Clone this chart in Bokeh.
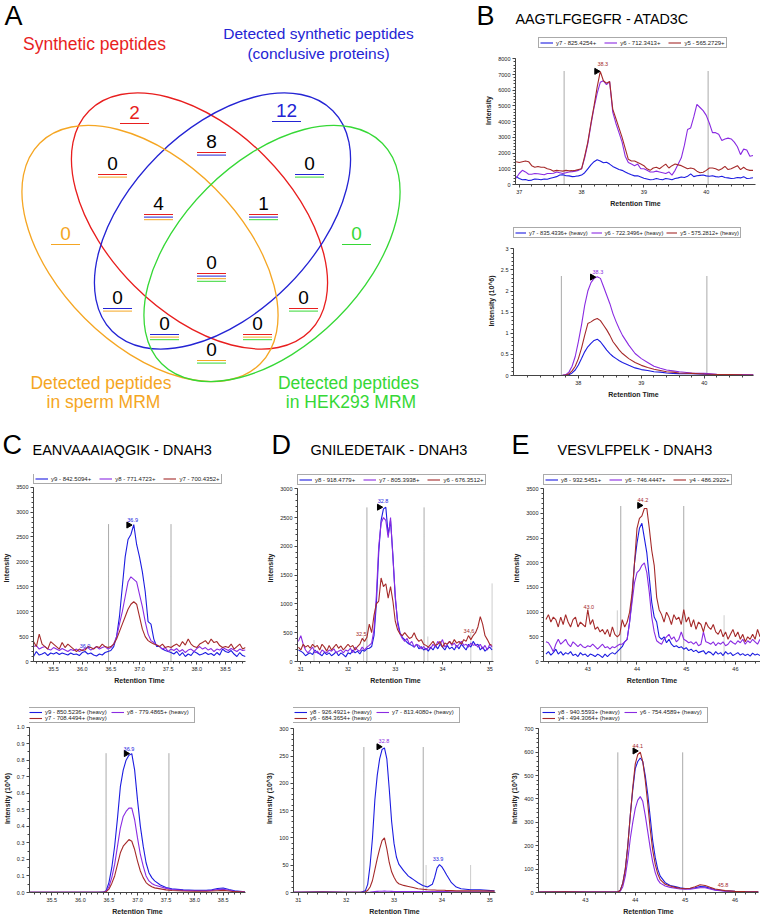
import math
from bokeh.plotting import figure
from bokeh.models import (Range1d, SingleIntervalTicker, FixedTicker, PrintfTickFormatter,
                          NumeralTickFormatter, Legend, LegendItem, Label)
from bokeh.layouts import row, column
from bokeh.embed import file_html
from bokeh.resources import INLINE
from bokeh.core.properties import value

FONT = "Liberation Sans"
C_BLUE = "#1c1ce0"
C_VIOLET = "#8a2be2"
C_BROWN = "#a52a2a"
TXT = "#222222"

# ---------------- Panel A : Venn data ----------------
SET_COLORS = {"R": "#e81e1e", "B": "#2424d4", "O": "#f5a623", "G": "#36d836"}
ELL_SET = ["R", "B", "O", "G"]
ELL_X = [199, 222, 149.5, 271.5]
ELL_Y = [220.5, 220.5, 253, 253]
ELL_W = [312, 312, 312, 312]
ELL_H = [184, 184, 184, 184]
ELL_ANGLE = [-45, 45, -45, 45]

VENN_X = [134, 286, 211, 112, 309, 158, 263, 65, 356, 211, 117, 303, 164, 257, 211]
VENN_Y = [112, 110, 141, 163, 163, 203, 203, 233, 233, 262, 297, 297, 323, 323, 349]
VENN_N = ["2", "12", "8", "0", "0", "4", "1", "0", "0", "0", "0", "0", "0", "0", "0"]
VENN_SETS = ["R", "B", "RB", "RO", "BG", "RBO", "RBG", "O", "G", "RBOG", "BO", "RG", "BOG", "ROG", "OG"]

SET_LABELS = [("Synthetic peptides", 94, 43, "R", "17.5px"),
              ("Detected synthetic peptides", 318, 33, "B", "15.5px"),
              ("(conclusive proteins)", 318, 53, "B", "15.5px"),
              ("Detected peptides", 100.5, 382, "O", "17.5px"),
              ("in sperm MRM", 103, 401, "O", "17.5px"),
              ("Detected peptides", 348, 382, "G", "17.5px"),
              ("in HEK293 MRM", 350.5, 401, "G", "17.5px")]

# ---------------- Panel B : AAGTLFGEGFR - ATAD3C ----------------
B_LABELS = ["y7 - 825.4254+", "y6 - 712.3413+", "y5 - 565.2729+"]
B_T = [36.95, 37.0, 37.05, 37.1, 37.15, 37.2, 37.25, 37.3, 37.35, 37.4,
       37.45, 37.5, 37.55, 37.6, 37.65, 37.7, 37.75, 37.8, 37.85, 37.9,
       37.95, 38.0, 38.05, 38.1, 38.15, 38.2, 38.25, 38.3, 38.35, 38.4,
       38.45, 38.5, 38.55, 38.6, 38.65, 38.7, 38.75, 38.8, 38.85, 38.9,
       38.95, 39.0, 39.05, 39.1, 39.15, 39.2, 39.25, 39.3, 39.35, 39.4,
       39.45, 39.5, 39.55, 39.6, 39.65, 39.7, 39.75, 39.8, 39.85, 39.9,
       39.95, 40.0, 40.05, 40.1, 40.15, 40.2, 40.25, 40.3, 40.35, 40.4,
       40.45, 40.5, 40.55, 40.6, 40.65, 40.7, 40.75]
B_Y7 = [500, 380, 300, 320, 250, 280, 350, 330, 300, 350,
        330, 400, 450, 500, 600, 620, 560, 550, 500, 520,
        550, 600, 750, 1000, 1250, 1450, 1570, 1500, 1380, 1420,
        1300, 1150, 1050, 950, 900, 800, 700, 620, 550, 560,
        480, 400, 350, 300, 320, 380, 330, 300, 380, 350,
        300, 380, 420, 480, 450, 520, 680, 500, 560, 580,
        600, 550, 520, 560, 500, 480, 520, 450, 420, 380,
        400, 450, 420, 500, 380, 400, 430]
B_Y6 = [400, 700, 900, 800, 650, 650, 700, 680, 650, 620,
        700, 700, 720, 800, 750, 700, 750, 800, 820, 850,
        900, 1000, 1700, 2600, 3800, 4900, 5800, 6500, 6600, 6350,
        6550, 4600, 3900, 3300, 2700, 1800, 1400, 1300, 1200, 1300,
        1000, 1000, 900, 800, 800, 850, 800, 750, 700, 800,
        600, 900, 1300, 1700, 2500, 3500, 3600, 4300, 5100, 4900,
        4700, 4400, 3900, 3300, 3300, 3200, 2800, 2900, 2950, 2900,
        2700, 2400, 1900, 2250, 2200, 1800, 1850]
B_Y5 = [1450, 1400, 1450, 1500, 1450, 1200, 1100, 1150, 1100, 1100,
        1000, 950, 850, 900, 880, 850, 900, 870, 880, 900,
        950, 1000, 1800, 2700, 3900, 5000, 6200, 7200, 6600, 6450,
        6550, 4800, 4200, 3600, 3000, 2300, 1600, 1500, 1500, 1400,
        1300, 1200, 1000, 900, 1050, 1100, 1000, 1150, 1300, 1050,
        1200, 1300, 1250, 1200, 1100, 1000, 1050, 1000, 850, 750,
        780, 900, 1050, 1050, 1000, 900, 1000, 1150, 950, 1000,
        1100, 1200, 950, 1100, 950, 900, 900]

BH_LABELS = ["y7 - 835.4336+ (heavy)", "y6 - 722.3496+ (heavy)", "y5 - 575.2812+ (heavy)"]
BH_T = [37.0, 37.3, 37.6, 37.75, 37.8, 37.85, 37.9, 37.95, 38.0, 38.05,
        38.1, 38.15, 38.2, 38.25, 38.3, 38.35, 38.4, 38.45, 38.5, 38.55,
        38.6, 38.65, 38.7, 38.8, 38.9, 39.0, 39.1, 39.2, 39.3, 39.4,
        39.5, 39.6, 39.8, 40.0, 40.2, 40.4, 40.6, 40.78]
BH_Y7 = [0, 0, 0, 0.002, 0.006, 0.02, 0.06, 0.13, 0.25, 0.4,
         0.56, 0.68, 0.76, 0.83, 0.86, 0.8, 0.7, 0.6, 0.52, 0.45,
         0.4, 0.35, 0.31, 0.24, 0.18, 0.14, 0.12, 0.09, 0.08, 0.06,
         0.05, 0.045, 0.04, 0.03, 0.025, 0.02, 0.015, 0.012]
BH_Y6 = [0, 0, 0, 0.005, 0.02, 0.08, 0.22, 0.45, 0.8, 1.2,
         1.66, 2.0, 2.2, 2.3, 2.34, 2.3, 2.1, 1.9, 1.7, 1.46,
         1.27, 1.1, 0.95, 0.72, 0.52, 0.4, 0.31, 0.22, 0.17, 0.13,
         0.11, 0.09, 0.06, 0.05, 0.03, 0.025, 0.02, 0.015]
BH_Y5 = [0, 0, 0, 0.003, 0.01, 0.04, 0.11, 0.22, 0.4, 0.65,
         0.95, 1.23, 1.27, 1.32, 1.35, 1.3, 1.19, 1.08, 0.95, 0.8,
         0.7, 0.6, 0.52, 0.4, 0.31, 0.24, 0.19, 0.15, 0.12, 0.09,
         0.08, 0.06, 0.05, 0.035, 0.025, 0.02, 0.015, 0.012]

# ---------------- Panel C : EANVAAAIAQGIK - DNAH3 ----------------
C_LABELS = ["y9 - 842.5094+", "y8 - 771.4723+", "y7 - 700.4352+"]
C_T = [35.15, 35.2, 35.25, 35.3, 35.35, 35.4, 35.45, 35.5, 35.55, 35.6,
       35.65, 35.7, 35.75, 35.8, 35.85, 35.9, 35.95, 36.0, 36.05, 36.1,
       36.15, 36.2, 36.25, 36.3, 36.35, 36.4, 36.45, 36.5, 36.55, 36.6,
       36.65, 36.7, 36.75, 36.8, 36.85, 36.9, 36.95, 37.0, 37.05, 37.1,
       37.15, 37.2, 37.25, 37.3, 37.35, 37.4, 37.45, 37.5, 37.55, 37.6,
       37.65, 37.7, 37.75, 37.8, 37.85, 37.9, 37.95, 38.0, 38.05, 38.1,
       38.15, 38.2, 38.25, 38.3, 38.35, 38.4, 38.45, 38.5, 38.55, 38.6,
       38.65, 38.7, 38.75, 38.8, 38.85]
C_Y9 = [100, 200, 130, 150, 180, 120, 170, 150, 180, 140,
        170, 150, 130, 170, 140, 150, 120, 180, 200, 150,
        170, 130, 110, 150, 130, 180, 200, 220, 300, 500,
        900, 1500, 2100, 2450, 2550, 2750, 2350, 2100, 1800, 1400,
        800, 750, 450, 300, 300, 250, 220, 200, 180, 150,
        200, 120, 180, 100, 150, 120, 200, 170, 130, 150,
        180, 140, 160, 120, 180, 130, 250, 200, 180, 220,
        150, 100, 180, 120, 100]
C_Y8 = [300, 320, 250, 280, 300, 250, 230, 280, 250, 220,
        260, 230, 200, 240, 220, 250, 200, 230, 260, 280,
        230, 260, 300, 250, 280, 300, 250, 280, 350, 500,
        750, 1000, 1300, 1600, 1700, 1650, 1600, 1350, 1100, 800,
        550, 420, 380, 330, 300, 250, 280, 200, 250, 220,
        260, 200, 240, 180, 230, 250, 200, 260, 300, 250,
        280, 230, 260, 200, 250, 230, 280, 250, 220, 260,
        230, 200, 250, 220, 230]
C_Y7 = [400, 300, 550, 350, 300, 250, 400, 350, 300, 250,
        380, 280, 350, 300, 250, 200, 250, 220, 230, 300,
        280, 250, 300, 280, 350, 300, 280, 300, 350, 450,
        600, 750, 900, 1050, 1150, 1200, 1150, 900, 650, 500,
        420, 380, 350, 330, 300, 350, 280, 300, 280, 320,
        350, 300, 400, 330, 450, 350, 300, 280, 350, 380,
        420, 350, 450, 380, 400, 320, 280, 300, 280, 350,
        250, 300, 350, 250, 280]

CH_LABELS = ["y9 - 850.5236+ (heavy)", "y8 - 779.4865+ (heavy)", "y7 - 708.4494+ (heavy)"]
CH_T = [35.11, 35.5, 36.0, 36.3, 36.4,
        36.45, 36.5, 36.55, 36.6, 36.65, 36.7, 36.75, 36.8, 36.85, 36.9,
        36.95, 37.0, 37.05, 37.1, 37.15, 37.2, 37.25, 37.3,
        37.4, 37.5, 37.6, 37.8, 38.0, 38.2, 38.3, 38.4, 38.5, 38.6, 38.7, 38.88]
CH_Y9 = [0.001, 0.001, 0.001, 0.001, 0.002,
         0.01, 0.06, 0.15, 0.28, 0.45, 0.64, 0.74, 0.8, 0.83, 0.84,
         0.74, 0.56, 0.4, 0.28, 0.18, 0.12, 0.09, 0.07,
         0.045, 0.03, 0.022, 0.016, 0.013, 0.013, 0.016, 0.024, 0.027, 0.018, 0.01, 0.005]
CH_Y8 = [0.001, 0.001, 0.001, 0.001, 0.001,
         0.006, 0.035, 0.09, 0.17, 0.28, 0.39, 0.46, 0.49, 0.51, 0.51,
         0.44, 0.33, 0.23, 0.16, 0.1, 0.07, 0.055, 0.045,
         0.035, 0.025, 0.018, 0.013, 0.011, 0.011, 0.013, 0.018, 0.02, 0.014, 0.008, 0.004]
CH_Y7 = [0.0005, 0.0005, 0.0005, 0.0005, 0.001,
         0.004, 0.02, 0.055, 0.1, 0.17, 0.24, 0.28, 0.3, 0.32, 0.31,
         0.26, 0.19, 0.13, 0.09, 0.06, 0.045, 0.035, 0.028,
         0.022, 0.016, 0.012, 0.009, 0.008, 0.008, 0.009, 0.011, 0.013, 0.009, 0.005, 0.003]

# ---------------- Panel D : GNILEDETAIK - DNAH3 ----------------
D_LABELS = ["y8 - 918.4779+", "y7 - 805.3938+", "y6 - 676.3512+"]
D_T = [30.95, 31.0, 31.05, 31.1, 31.15, 31.2, 31.25, 31.3, 31.35, 31.4,
       31.45, 31.5, 31.55, 31.6, 31.65, 31.7, 31.75, 31.8, 31.85, 31.9,
       31.95, 32.0, 32.05, 32.1, 32.15, 32.2, 32.25, 32.3, 32.35, 32.4,
       32.45, 32.5, 32.55, 32.6, 32.65, 32.7, 32.75, 32.8, 32.85, 32.9,
       32.95, 33.0, 33.05, 33.1, 33.15, 33.2, 33.25, 33.3, 33.35, 33.4,
       33.45, 33.5, 33.55, 33.6, 33.65, 33.7, 33.75, 33.8, 33.85, 33.9,
       33.95, 34.0, 34.05, 34.1, 34.15, 34.2, 34.25, 34.3, 34.35, 34.4,
       34.45, 34.5, 34.55, 34.6, 34.65, 34.7, 34.75, 34.8, 34.85, 34.9,
       34.95, 35.0, 35.05]
D_Y8 = [200, 180, 150, 100, 130, 150, 120, 200, 150, 130,
        100, 160, 120, 150, 100, 130, 170, 100, 150, 120,
        80, 150, 130, 200, 150, 180, 130, 200, 180, 220,
        230, 260, 450, 1000, 1900, 2450, 2650, 2680, 2200, 2450,
        1850, 1100, 700, 500, 420, 380, 330, 300, 280, 250,
        300, 220, 260, 200, 230, 180, 250, 200, 280, 220,
        300, 250, 200, 280, 220, 250, 200, 280, 220, 300,
        250, 200, 300, 250, 350, 280, 300, 200, 250, 180,
        220, 250, 200]
D_Y7 = [350, 450, 300, 200, 150, 200, 250, 150, 180, 130,
        200, 170, 150, 200, 180, 220, 150, 180, 200, 150,
        200, 180, 230, 150, 250, 200, 180, 250, 200, 250,
        280, 320, 550, 1150, 2000, 2400, 2500, 2450, 2150, 2500,
        1800, 1150, 650, 480, 400, 350, 400, 300, 350, 250,
        300, 280, 220, 260, 200, 250, 220, 300, 250, 350,
        300, 380, 250, 300, 350, 280, 320, 250, 300, 350,
        280, 300, 250, 320, 280, 300, 250, 300, 220, 280,
        200, 300, 250]
D_Y6 = [250, 200, 300, 250, 280, 230, 300, 250, 280, 200,
        300, 250, 180, 280, 200, 250, 300, 230, 270, 200,
        250, 300, 250, 280, 200, 260, 300, 400, 350, 420,
        650, 500, 800, 1000, 1050, 1450, 1300, 1350, 1100, 1300,
        1050, 700, 550, 480, 450, 500, 450, 400, 420, 500,
        400, 350, 380, 300, 280, 250, 300, 350, 280, 300,
        350, 250, 320, 300, 350, 300, 380, 320, 350, 300,
        380, 350, 450, 380, 450, 500, 600, 780, 650, 450,
        380, 300, 280]

DH_LABELS = ["y8 - 926.4921+ (heavy)", "y7 - 813.4080+ (heavy)", "y6 - 684.3654+ (heavy)"]
DH_T = [30.9, 31.5, 32.0, 32.3,
        32.4, 32.45, 32.5, 32.55, 32.6, 32.65, 32.7, 32.75, 32.8, 32.85, 32.9, 32.95, 33.0, 33.05, 33.1,
        33.2, 33.3, 33.35, 33.4, 33.5, 33.6, 33.7, 33.8, 33.85, 33.9, 33.95, 34.0, 34.05, 34.1,
        34.2, 34.3, 34.4, 34.6, 34.8, 35.1]
DH_Y8 = [0.5, 1.5, 0.5, 0.5,
         3, 15, 50, 100, 170, 215, 245, 262, 265, 245, 190, 130, 90, 65, 52,
         40, 30, 27, 24, 18, 13, 10, 15, 28, 45, 51, 47, 40, 32,
         18, 10, 7, 5, 5, 3]
DH_Y7 = [0.2, 0.5, 0.2, 0.2,
         0.3, 0.5, 0.8, 1.2, 1.6, 2, 2.2, 2.4, 2.5, 2.4, 2.2, 2, 1.8, 1.7, 1.6,
         1.6, 1.6, 1.6, 1.6, 1.6, 1.6, 1.6, 1.6, 1.6, 1.6, 1.6, 1.6, 1.6, 1.6,
         1.5, 1.5, 1.4, 1.3, 1.2, 1.0]
DH_Y6 = [0.3, 0.8, 0.3, 0.3,
         1, 4, 10, 22, 42, 62, 80, 95, 100, 80, 55, 38, 28, 20, 16,
         13, 11, 10, 9, 7, 6, 5, 4.5, 4.5, 4, 4, 4, 4, 3.5,
         3.5, 3, 3, 3, 3, 2.5]

# ---------------- Panel E : VESVLFPELK - DNAH3 ----------------
E_LABELS = ["y8 - 932.5451+", "y6 - 746.4447+", "y4 - 486.2922+"]
E_T = [42.15, 42.2, 42.25, 42.3, 42.35, 42.4, 42.45, 42.5, 42.55, 42.6,
       42.65, 42.7, 42.75, 42.8, 42.85, 42.9, 42.95, 43.0, 43.05, 43.1,
       43.15, 43.2, 43.25, 43.3, 43.35, 43.4, 43.45, 43.5, 43.55, 43.6,
       43.65, 43.7, 43.75, 43.8, 43.85, 43.9, 43.95, 44.0, 44.05, 44.1,
       44.15, 44.2, 44.25, 44.3, 44.35, 44.4, 44.45, 44.5, 44.55, 44.6,
       44.65, 44.7, 44.75, 44.8, 44.85, 44.9, 44.95, 45.0, 45.05, 45.1,
       45.15, 45.2, 45.25, 45.3, 45.35, 45.4, 45.45, 45.5, 45.55, 45.6,
       45.65, 45.7, 45.75, 45.8, 45.85, 45.9, 45.95, 46.0, 46.05, 46.1,
       46.15, 46.2, 46.25, 46.3, 46.35, 46.4, 46.45, 46.5]
E_Y8 = [150, 200, 130, 180, 250, 150, 200, 130, 180, 150,
        200, 120, 150, 100, 180, 130, 150, 100, 150, 130,
        100, 150, 120, 80, 150, 100, 150, 180, 150, 200,
        250, 300, 400, 450, 800, 1300, 2000, 2400, 2700, 2800,
        2500, 2200, 1700, 1200, 900, 800, 500, 450, 500, 380,
        450, 350, 300, 320, 280, 300, 250, 280, 220, 250,
        200, 230, 180, 200, 220, 150, 200, 180, 130, 200,
        150, 180, 120, 200, 150, 180, 120, 150, 180, 130,
        160, 120, 150, 110, 170, 130, 150, 120]
E_Y6 = [400, 380, 300, 200, 350, 450, 350, 400, 450, 350,
        300, 400, 350, 300, 350, 300, 280, 320, 300, 350,
        300, 250, 300, 350, 280, 300, 250, 300, 280, 320,
        350, 350, 400, 450, 800, 1200, 1600, 1800, 1850, 1950,
        2000, 1800, 1400, 900, 600, 420, 380, 350, 450, 500,
        550, 450, 500, 400, 450, 600, 450, 420, 380, 400,
        350, 400, 320, 350, 600, 400, 380, 350, 400, 320,
        380, 350, 400, 320, 350, 420, 380, 350, 420, 380,
        450, 350, 420, 380, 450, 400, 350, 450]
E_Y4 = [850, 950, 800, 900, 850, 700, 900, 750, 950, 800,
        700, 850, 900, 700, 800, 750, 700, 1050, 750, 850,
        650, 700, 600, 650, 550, 650, 500, 700, 550, 500,
        550, 850, 700, 800, 1000, 1380, 2000, 2700, 2900, 2950,
        3100, 3100, 2700, 2250, 1950, 1300, 1050, 950, 800, 1000,
        900, 750, 950, 850, 900, 750, 1050, 800, 900, 700,
        850, 650, 800, 750, 600, 800, 700, 650, 750, 600,
        550, 650, 500, 600, 450, 550, 650, 500, 600, 450,
        550, 400, 500, 450, 550, 450, 650, 500]

EH_LABELS = ["y8 - 940.5593+ (heavy)", "y6 - 754.4589+ (heavy)", "y4 - 494.3064+ (heavy)"]
EH_T = [42.06, 42.6, 43.0, 43.4, 43.6,
        43.65, 43.7, 43.75, 43.8, 43.85, 43.9, 43.95, 44.0, 44.05, 44.1, 44.15, 44.2, 44.25,
        44.3, 44.35, 44.4, 44.45, 44.5,
        44.6, 44.7, 44.8, 44.9, 45.0, 45.1, 45.2, 45.3, 45.4, 45.5, 45.6,
        45.8, 46.0, 46.2, 46.47]
EH_Y8 = [2, 3, 2, 2, 2,
         2, 10, 40, 100, 200, 330, 440, 530, 560, 575, 560, 500, 420,
         320, 220, 150, 100, 70,
         42, 30, 25, 20, 17, 17, 20, 25, 24, 18, 12,
         7, 5, 4, 3]
EH_Y6 = [1.5, 2, 1.5, 1.5, 1.5,
         1.5, 5, 25, 70, 140, 230, 300, 360, 395, 410, 390, 330, 260,
         190, 130, 85, 55, 40,
         28, 22, 18, 15, 14, 14, 17, 20, 20, 15, 10,
         6, 4, 3, 2]
EH_Y4 = [2, 3, 2, 2, 2,
         2, 10, 40, 100, 200, 330, 450, 550, 590, 600, 560, 480, 380,
         270, 180, 120, 80, 55,
         35, 28, 22, 18, 16, 18, 25, 33, 30, 22, 15,
         8, 5, 4, 3]

# integration boundaries (time, top) and peak annotations
B_BND = ([37.72, 40.03], [7200, 7200])
BH_BND = ([37.73, 40.04], [2.35, 2.35])
C_BND = ([36.46, 37.55], [2750, 2750])
CH_BND = ([36.45, 37.55], [0.84, 0.84])
D_BND = ([32.4, 33.61], [2680, 2680])
D_BND2 = ([31.28, 32.33, 33.69, 34.6, 35.05], [370, 430, 430, 520, 1360])
DH_BND = ([32.37, 33.61], [267, 267])
DH_BND2 = ([33.67, 34.6], [50, 50])
E_BND = ([43.67, 44.95], [3150, 3150])
E_BND2 = ([43.6, 45.77], [1030, 940])
EH_BND = ([43.65, 44.95], [600, 600])

B_ANN = ([38.34], [7680], ["38.3"], [C_BROWN])
B_ARR = ([38.24], [7200])
BH_ANN = ([38.31], [2.45], ["38.3"], [C_VIOLET])
BH_ARR = ([38.22], [2.33])
C_ANN = ([36.88, 36.05], [2840, 310], ["36.9", "36.0"], [C_BLUE, C_BLUE])
C_ARR = ([36.81], [2740])
CH_ANN = ([36.85], [0.865], ["36.9"], [C_BLUE])
CH_ARR = ([36.8], [0.84])
D_ANN = ([32.74, 32.28, 34.56], [2780, 484, 536], ["32.8", "32.5", "34.6"], [C_BLUE, C_BROWN, C_BROWN])
D_ARR = ([32.66], [2680])
DH_ANN = ([32.79, 33.92], [277, 61], ["32.8", "33.9"], [C_VIOLET, C_BLUE])
DH_ARR = ([32.68], [267])
E_ANN = ([44.12, 43.02], [3264, 1110], ["44.2", "43.0"], [C_BROWN, C_BROWN])
E_ARR = ([44.05], [3163])
EH_ANN = ([44.05, 45.76], [625, 32], ["44.1", "45.8"], [C_BROWN, C_BROWN])
EH_ARR = ([43.99], [605])


# ---------------- helpers ----------------
def no_align(p):
    if "frame_align" in p.properties():
        p.frame_align = False
    return p


def base_fig(w, h, mb, xr, yr, ybounds, xticker, yticker, ylab, xfmt=None, yfmt=None):
    p = figure(width=w, height=h, x_range=Range1d(*xr), y_range=Range1d(*yr),
               output_backend="svg", toolbar_location=None, title=None,
               min_border_left=mb[0], min_border_right=mb[1],
               min_border_top=mb[2], min_border_bottom=mb[3])
    no_align(p)
    p.outline_line_color = None
    p.background_fill_color = "white"
    p.border_fill_color = "white"
    p.xgrid.visible = False
    p.ygrid.visible = False
    p.xaxis.ticker = xticker
    p.yaxis.ticker = yticker
    p.yaxis.bounds = ybounds
    if xfmt is not None:
        p.xaxis.formatter = xfmt
    if yfmt is not None:
        p.yaxis.formatter = yfmt
    p.xaxis.axis_label = "Retention Time"
    p.yaxis.axis_label = ylab
    for ax in (p.xaxis[0], p.yaxis[0]):
        ax.axis_line_color = "#444444"
        ax.major_tick_line_color = "#444444"
        ax.minor_tick_line_color = "#444444"
        ax.major_tick_out = 3
        ax.major_tick_in = 0
        ax.minor_tick_out = 2
        ax.minor_tick_in = 0
        ax.major_label_text_font = FONT
        ax.major_label_text_font_size = "5.5px"
        ax.major_label_text_color = TXT
        ax.major_label_standoff = 2
        ax.axis_label_text_font = FONT
        ax.axis_label_text_font_size = "7px"
        ax.axis_label_text_font_style = "bold"
        ax.axis_label_text_color = TXT
        ax.axis_label_standoff = 3
    return p


def add_bounds(p, bnd, color):
    t, top = bnd
    p.segment(x0=t, y0=[0] * len(t), x1=t, y1=top, line_color=color,
              line_dash="1 1", line_width=1)


def add_traces(p, t, ys, labels, loc, ncols, font="6px", glyph_w=13, spacing=8,
               label_w=10, item_h=7):
    rends = []
    for y, c in zip(ys, (C_BLUE, C_VIOLET, C_BROWN)):
        assert len(y) == len(t), (len(y), len(t))
        rends.append(p.line(t, y, line_color=c, line_width=1.1))
    items = [LegendItem(label=l, renderers=[r]) for l, r in zip(labels, rends)]
    leg = Legend(items=items, location=loc, orientation="horizontal", ncols=ncols,
                 label_text_font=FONT, label_text_font_size=font, label_text_color=TXT,
                 label_height=item_h, glyph_height=item_h, glyph_width=glyph_w,
                 label_standoff=3, label_width=label_w, spacing=spacing, padding=1,
                 margin=0, border_line_color="#555555", border_line_width=1,
                 background_fill_color="white", background_fill_alpha=1.0)
    p.add_layout(leg)


def add_peaks(p, ann, arr):
    at, ay, atxt, acol = ann
    p.text(x=at, y=ay, text=atxt, text_color=acol, text_font=value(FONT),
           text_font_size="5.5px", text_align="center", text_baseline="middle")
    p.scatter(x=arr[0], y=arr[1], marker="triangle", angle=-math.pi / 2, size=6,
              fill_color="black", line_color="black")


def header(w, x0, y0, h, letter, lx, title, tx, mid_l, mid_t, tsize="14.5px"):
    p = figure(width=w, height=h, x_range=Range1d(x0, x0 + w), y_range=Range1d(y0 + h, y0),
               output_backend="svg", toolbar_location=None, title=None,
               x_axis_location=None, y_axis_location=None, min_border=0)
    no_align(p)
    p.outline_line_color = None
    p.xgrid.visible = False
    p.ygrid.visible = False
    p.add_layout(Label(x=lx, y=mid_l, text=letter, text_font=FONT, text_font_size="27px",
                       text_color="black", text_baseline="middle"))
    p.add_layout(Label(x=tx, y=mid_t, text=title, text_font=FONT, text_font_size=tsize,
                       text_color="black", text_baseline="middle"))
    return p


# ---------------- Panel A figure ----------------
venn = figure(width=476, height=420, x_range=Range1d(0, 476), y_range=Range1d(420, 0),
              output_backend="svg", toolbar_location=None, title=None,
              x_axis_location=None, y_axis_location=None, min_border=0)
no_align(venn)
venn.outline_line_color = None
venn.xgrid.visible = False
venn.ygrid.visible = False
venn.ellipse(x=ELL_X, y=ELL_Y, width=ELL_W, height=ELL_H, angle=ELL_ANGLE, angle_units="deg",
             fill_color=None, line_color=[SET_COLORS[s] for s in ELL_SET], line_width=1.3)

num_col = [SET_COLORS[s] if len(s) == 1 else "black" for s in VENN_SETS]
venn.text(x=VENN_X, y=VENN_Y, text=VENN_N, text_color=num_col, text_font=value(FONT),
          text_font_size="19px", text_align="center", text_baseline="middle")
ux0, ux1, uy, ucol = [], [], [], []
for x, y, sets in zip(VENN_X, VENN_Y, VENN_SETS):
    for k, s in enumerate(sets):
        ux0.append(x - 14.5)
        ux1.append(x + 14.5)
        uy.append(y + 11 + 2.6 * k)
        ucol.append(SET_COLORS[s])
venn.segment(x0=ux0, y0=uy, x1=ux1, y1=uy, line_color=ucol, line_width=1)
venn.text(x=[l[1] for l in SET_LABELS], y=[l[2] for l in SET_LABELS],
          text=[l[0] for l in SET_LABELS], text_color=[SET_COLORS[l[3]] for l in SET_LABELS],
          text_font=value(FONT), text_font_size=[l[4] for l in SET_LABELS], text_align="center",
          text_baseline="middle")
venn.add_layout(Label(x=4, y=15, text="A", text_font=FONT, text_font_size="27px",
                      text_color="black", text_baseline="middle"))

# ---------------- Panel B ----------------
b_head = header(284, 476, 0, 30, "B", 476, "AAGTLFGEGFR - ATAD3C", 515, 15, 18, tsize="14.3px")

b_top = base_fig(284, 188, (39, 5, 6, 34), (36.94, 40.79), (0, 9419), (0, 8000),
                 SingleIntervalTicker(interval=1, num_minor_ticks=5),
                 SingleIntervalTicker(interval=1000, num_minor_ticks=5), "Intensity")
add_bounds(b_top, B_BND, "#555555")
add_traces(b_top, B_T, [B_Y7, B_Y6, B_Y5], B_LABELS, (23, 136), 3)
add_peaks(b_top, B_ANN, B_ARR)

b_bot = base_fig(284, 202, (37, 7, 8, 45), (36.97, 40.78), (0, 3.528), (0, 3),
                 FixedTicker(ticks=[38, 39, 40],
                             minor_ticks=[37.2, 37.4, 37.6, 37.8, 38.2, 38.4, 38.6, 38.8,
                                          39.2, 39.4, 39.6, 39.8, 40.2, 40.4, 40.6]),
                 SingleIntervalTicker(interval=0.5, num_minor_ticks=5), "Intensity (10^6)",
                 yfmt=NumeralTickFormatter(format="0.[0]"))
add_bounds(b_bot, BH_BND, "#555555")
add_traces(b_bot, BH_T, [BH_Y7, BH_Y6, BH_Y5], BH_LABELS, (0, 137), 3,
           font="5.7px", glyph_w=11, spacing=3)
add_peaks(b_bot, BH_ANN, BH_ARR)

# ---------------- Panel C ----------------
c_head = header(250, 0, 420, 42, "C", 2, "EANVAAAIAQGIK - DNAH3", 32, 444, 449)

c_top = base_fig(250, 238, (33, 5, 12, 39), (35.15, 38.85), (0, 3755), (0, 3500),
                 SingleIntervalTicker(interval=0.5, num_minor_ticks=5),
                 SingleIntervalTicker(interval=500, num_minor_ticks=5), "Intensity",
                 xfmt=PrintfTickFormatter(format="%.1f"))
add_bounds(c_top, C_BND, "#555555")
add_traces(c_top, C_T, [C_Y9, C_Y8, C_Y7], C_LABELS, (0, 177), 3)
add_peaks(c_top, C_ANN, C_ARR)

c_bot = base_fig(250, 218, (28, 5, 4, 26), (35.11, 38.89), (0, 1.137), (0, 1.0),
                 SingleIntervalTicker(interval=0.5, num_minor_ticks=5),
                 SingleIntervalTicker(interval=0.1, num_minor_ticks=2), "Intensity (10^6)",
                 xfmt=PrintfTickFormatter(format="%.1f"), yfmt=PrintfTickFormatter(format="%.1f"))
add_bounds(c_bot, CH_BND, "#555555")
add_traces(c_bot, CH_T, [CH_Y9, CH_Y8, CH_Y7], CH_LABELS, (-2, 169), 2, spacing=0,
           label_w=66, item_h=6)
add_peaks(c_bot, CH_ANN, CH_ARR)

# ---------------- Panel D ----------------
d_head = header(250, 250, 420, 42, "D", 271, "GNILEDETAIK - DNAH3", 310, 444, 449)

d_top = base_fig(250, 238, (47, 7, 12, 39), (30.93, 35.08), (0, 3248), (0, 3000),
                 SingleIntervalTicker(interval=1, num_minor_ticks=5),
                 SingleIntervalTicker(interval=500, num_minor_ticks=5), "Intensity")
add_bounds(d_top, D_BND2, "#9a9a9a")
add_bounds(d_top, D_BND, "#555555")
add_traces(d_top, D_T, [D_Y8, D_Y7, D_Y6], D_LABELS, (0, 176), 3)
add_peaks(d_top, D_ANN, D_ARR)

d_bot = base_fig(250, 218, (43, 5, 4, 26), (30.9, 35.12), (0, 344.5), (0, 300),
                 SingleIntervalTicker(interval=1, num_minor_ticks=5),
                 SingleIntervalTicker(interval=50, num_minor_ticks=5), "Intensity (10^3)")
add_bounds(d_bot, DH_BND2, "#9a9a9a")
add_bounds(d_bot, DH_BND, "#555555")
add_traces(d_bot, DH_T, [DH_Y8, DH_Y7, DH_Y6], DH_LABELS, (-1, 169), 2, spacing=0,
           label_w=66, item_h=6)
add_peaks(d_bot, DH_ANN, DH_ARR)

# ---------------- Panel E ----------------
e_head = header(260, 500, 420, 42, "E", 511, "VESVLFPELK - DNAH3", 557, 444, 449)

e_top = base_fig(260, 238, (43, 0, 12, 39), (42.1, 46.51), (0, 3790), (0, 3500),
                 SingleIntervalTicker(interval=1, num_minor_ticks=5),
                 SingleIntervalTicker(interval=500, num_minor_ticks=5), "Intensity")
add_bounds(e_top, E_BND2, "#9a9a9a")
add_bounds(e_top, E_BND, "#555555")
add_traces(e_top, E_T, [E_Y8, E_Y6, E_Y4], E_LABELS, (0, 176), 3)
add_peaks(e_top, E_ANN, E_ARR)

e_bot = base_fig(260, 218, (38, 2, 4, 26), (42.06, 46.47), (0, 803.9), (0, 700),
                 SingleIntervalTicker(interval=1, num_minor_ticks=5),
                 SingleIntervalTicker(interval=100, num_minor_ticks=5), "Intensity (10^3)")
add_bounds(e_bot, EH_BND, "#555555")
add_traces(e_bot, EH_T, [EH_Y8, EH_Y6, EH_Y4], EH_LABELS, (2, 169), 2, spacing=0,
           label_w=66, item_h=6)
add_peaks(e_bot, EH_ANN, EH_ARR)

layout = column(
    row(venn, column(b_head, b_top, b_bot)),
    row(column(c_head, c_top, c_bot), column(d_head, d_top, d_bot),
        column(e_head, e_top, e_bot)),
)

open("out.html", "w").write(file_html(layout, INLINE, title="MRM chromatograms"))
